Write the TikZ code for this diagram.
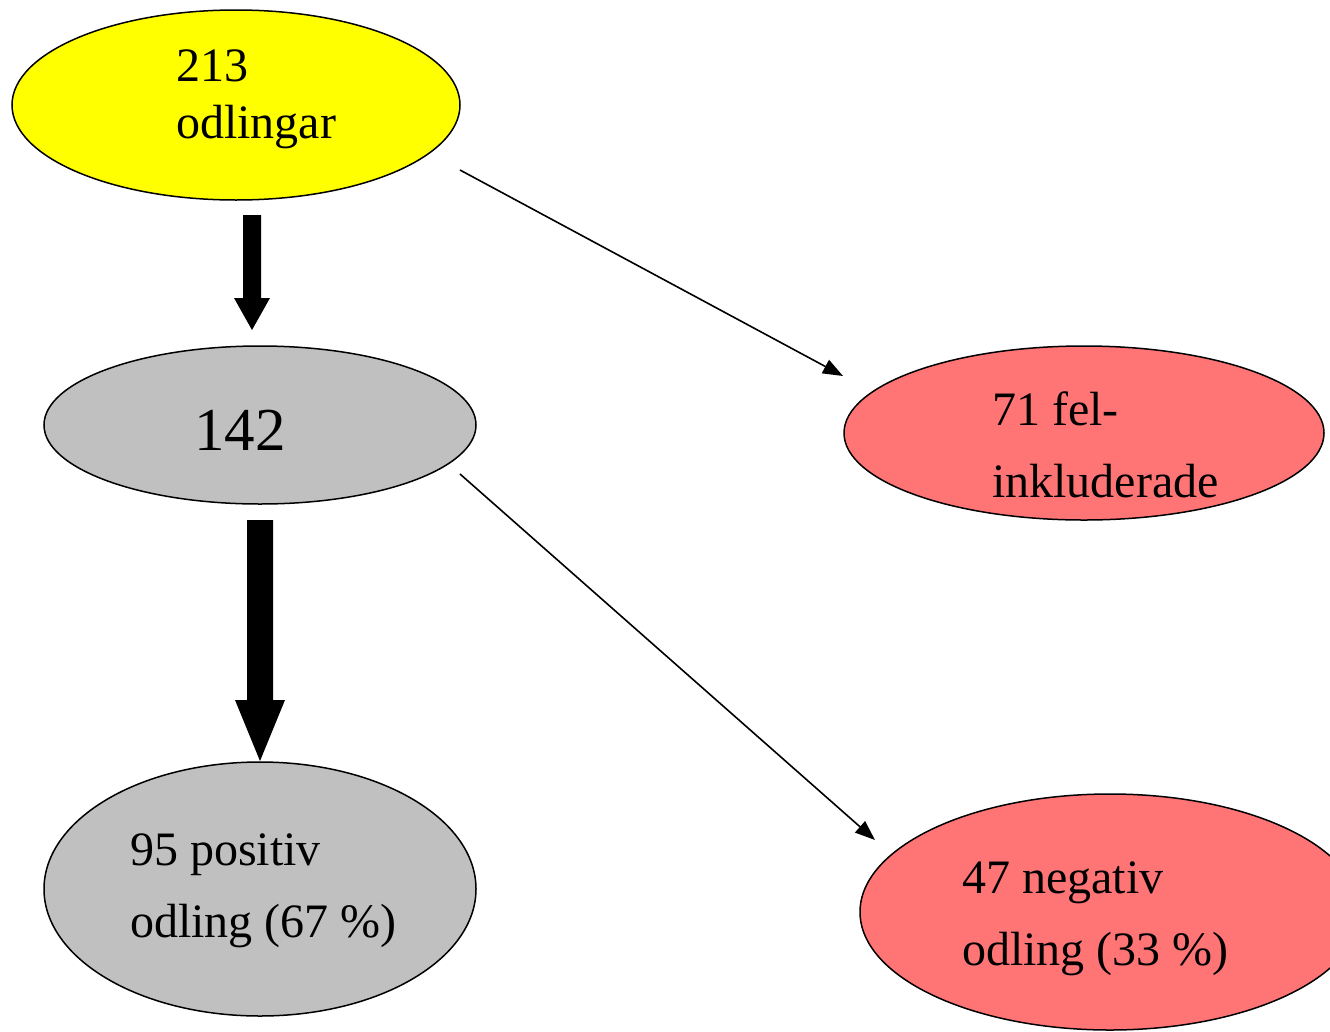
\documentclass[tikz,border=0pt]{standalone}
\usepackage{fontspec}
\setmainfont{Liberation Serif}
\usetikzlibrary{shapes.geometric,arrows.meta}
\definecolor{yel}{HTML}{FFFF00}
\definecolor{gry}{HTML}{C0C0C0}
\definecolor{redd}{HTML}{FF7575}
\begin{document}
\begin{tikzpicture}[x=1pt,y=-1pt,
  ell/.style={ellipse,draw=black,line width=1.5pt,inner sep=0pt},
  lbl/.style={anchor=base west,inner sep=0pt,font=\fontsize{48}{72}\selectfont,align=left},
  thin/.style={line width=1.6pt,-{Triangle[length=20pt,width=15pt]}},
  thick/.style={fill=black}]
\useasboundingbox (0,0) rectangle (1330,1031);
\clip (0,0) rectangle (1330,1031);
\node[ell,fill=yel,minimum width=448pt,minimum height=190pt] (n213) at (236,105) {};
\node[ell,fill=gry,minimum width=432pt,minimum height=158pt] (n142) at (260,425) {};
\node[ell,fill=redd,minimum width=480pt,minimum height=174pt] (n71) at (1084,433) {};
\node[ell,fill=gry,minimum width=432pt,minimum height=254pt] (n95) at (260,889) {};
\node[ell,fill=redd,minimum width=500pt,minimum height=236pt] (n47) at (1110,912) {};
\node[lbl] (t213a) at (176,81) {213};
\node[lbl] (t213b) at (176,138) {odlingar};
\node[anchor=base west,inner sep=0pt,font=\fontsize{61}{72}\selectfont] (t142) at (194,450) {142};
\node[lbl] (t71a) at (992,425) {71 fel-};
\node[lbl] (t71b) at (992,497) {inkluderade};
\node[lbl] (t95a) at (130,865) {95 positiv};
\node[lbl] (t95b) at (130,937) {odling (67 \%)};
\node[lbl] (t47a) at (962,893) {47 negativ};
\node[lbl] (t47b) at (962,965) {odling (33 \%)};
\coordinate (a1s) at (460,170);
\coordinate (a1e) at (843,376);
\coordinate (a2s) at (460,474);
\coordinate (a2e) at (875,840);
\draw[thin] (a1s) -- (a1e);
\draw[thin] (a2s) -- (a2e);
\fill[thick] (243,215) -- (261,215) -- (261,298) -- (270,298) -- (252,330) -- (234,298) -- (243,298) -- cycle;
\fill[thick] (247,520) -- (273,520) -- (273,700) -- (285,700) -- (260,761) -- (235,700) -- (247,700) -- cycle;
\end{tikzpicture}
\end{document}
